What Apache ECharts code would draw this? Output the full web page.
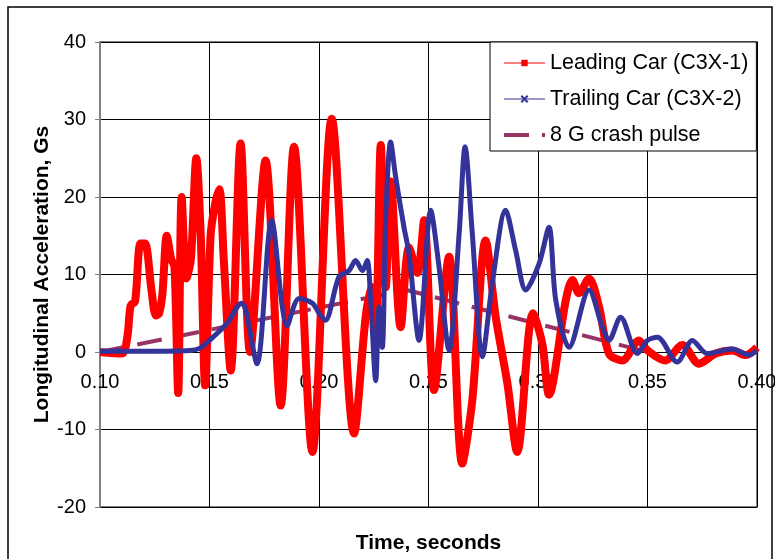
<!DOCTYPE html>
<html>
<head>
<meta charset="utf-8">
<script src="https://cdn.jsdelivr.net/npm/echarts@6/dist/echarts.min.js"></script>
<style>
  html, body { margin: 0; padding: 0; background: #fff; }
  #chart { width: 775px; height: 559px; }
</style>
</head>
<body>
<div id="chart"></div>
<script>
// time (s) and acceleration (G)
const leadT = [0.100, 0.110, 0.1125, 0.114, 0.116, 0.1185, 0.1205, 0.1235, 0.1255, 0.127, 0.1285, 0.1305, 0.1325, 0.134, 0.1357, 0.1373, 0.1395, 0.1415, 0.144, 0.146, 0.148, 0.1505, 0.1525, 0.1545, 0.1565, 0.1597, 0.1642, 0.1685, 0.1756, 0.1825, 0.1886, 0.197, 0.2058, 0.216, 0.2215, 0.2242, 0.2259, 0.2282, 0.2305, 0.2327, 0.2373, 0.2411, 0.2449, 0.248, 0.2525, 0.2594, 0.2654, 0.270, 0.2761, 0.2807, 0.286, 0.2905, 0.2977, 0.302, 0.305, 0.3127, 0.3157, 0.3187, 0.3233, 0.3279, 0.3324, 0.3385, 0.3461, 0.350, 0.358, 0.3659, 0.3735, 0.3811, 0.3887, 0.3948, 0.400]
const leadG = [0, -0.2, 2, 6, 6.5, 14, 14, 8, 4.7, 5, 7.5, 15, 12, 11, -5.3, 20, 9.5, 12, 25, 15, -4.3, 15, 19, 21, 12, -2.4, 26.9, 0, 24.7, -6.9, 26.5, -12.9, 30.1, -10.5, 5, 8.4, 2.4, 26.7, 8.4, 22, 3.2, 13.5, 10.2, 17, -4.9, 12.3, -14.4, -6.2, 14.4, 4.5, -4, -12.9, 5, 1, -5.5, 6.7, 9.3, 7.6, 9.5, 5.8, -0.2, -1.1, 1.5, 0.2, -1.1, 0.9, -1.5, -0.2, 0.2, -0.4, 0.6]

const trailT = [0.100, 0.120, 0.141, 0.1457, 0.150, 0.158, 0.1647, 0.1665, 0.1717, 0.1784, 0.1855, 0.1909, 0.197, 0.200, 0.2029, 0.2091, 0.2137, 0.2167, 0.2198, 0.222, 0.2236, 0.2259, 0.2274, 0.2289, 0.2305, 0.2327, 0.235, 0.2388, 0.2411, 0.2457, 0.251, 0.2548, 0.2594, 0.264, 0.2667, 0.270, 0.2746, 0.2791, 0.2852, 0.2898, 0.2944, 0.3005, 0.305, 0.3081, 0.3142, 0.3233, 0.3294, 0.3324, 0.3377, 0.3454, 0.350, 0.3545, 0.3636, 0.3705, 0.3773, 0.3887, 0.3963, 0.400]
const trailG = [0.1, 0.1, 0.2, 0.5, 1.5, 3.7, 6.3, 5.5, -1.5, 17, 3.4, 6.9, 6.3, 5.0, 4.1, 9.7, 10.5, 11.8, 10.5, 11.8, 6.7, -3.7, 5.8, 0.6, 17.5, 27.1, 22.6, 16.1, 12.7, 1.5, 18.3, 11, 0.2, 15.3, 26.5, 15.3, -0.6, 8.8, 18.3, 13.1, 8.0, 11.4, 16.1, 6.7, 0.6, 8.0, 3.2, 1.5, 4.5, -0.2, 1.5, 1.9, -1.3, 1.5, -0.2, 0.4, -0.4, 0.2]

const pulseT = [0.100, 0.240, 0.350]
const pulseG = [0, 8, 0]

const seriesNames = ['Leading Car (C3X-1)', 'Trailing Car (C3X-2)', '8 G crash pulse']

const FONT = 'Liberation Sans, Arial, sans-serif'
const GRID_TOP = 42
const GRID_H = 465

function pairs (t, g) {
  return t.map((x, i) => [x, g[i]])
}

const chart = echarts.init(document.getElementById('chart'))
chart.setOption({
  animation: false,
  backgroundColor: '#fff',
  grid: {
    left: 100,
    top: GRID_TOP,
    width: 657,
    height: GRID_H,
    containLabel: false,
    outerBoundsMode: 'none',
    show: true,
    borderColor: '#808080',
    borderWidth: 2
  },
  legend: {
    orient: 'vertical',
    left: 490,
    top: 42,
    backgroundColor: '#fff',
    borderColor: '#000',
    borderWidth: 1,
    borderRadius: 0,
    padding: [10, 8, 5, 12],
    itemWidth: 41,
    itemHeight: 8,
    itemGap: 14,
    textStyle: { fontFamily: FONT, fontSize: 21.5, color: '#000' },
    data: [
      { name: seriesNames[0], lineStyle: { width: 1 } },
      { name: seriesNames[1], lineStyle: { width: 1 } },
      { name: seriesNames[2], itemStyle: { opacity: 0 }, lineStyle: { width: 4, type: [25, 13] } }
    ]
  },
  xAxis: {
    type: 'value',
    min: 0.10,
    max: 0.40,
    interval: 0.05,
    position: 'bottom',
    name: 'Time, seconds',
    nameLocation: 'middle',
    nameGap: 181,
    nameMoveOverlap: false,
    nameTextStyle: { fontFamily: FONT, fontSize: 21, fontWeight: 'bold', color: '#000' },
    axisLine: { onZero: false, lineStyle: { color: '#000', width: 1 } },
    axisTick: { show: false },
    axisLabel: {
      fontFamily: FONT,
      fontSize: 20,
      color: '#000',
      margin: 20,
      formatter: v => v.toFixed(2)
    },
    splitLine: { show: true, lineStyle: { color: '#000', width: 1 } }
  },
  yAxis: {
    type: 'value',
    min: -20,
    max: 40,
    interval: 10,
    name: 'Longitudinal Acceleration, Gs',
    nameLocation: 'middle',
    nameRotate: 90,
    nameGap: 47,
    nameMoveOverlap: false,
    nameTextStyle: { fontFamily: FONT, fontSize: 21, fontWeight: 'bold', color: '#000' },
    axisLine: { show: true, onZero: false, lineStyle: { color: '#808080', width: 2 } },
    axisTick: { show: true, length: 5, lineStyle: { color: '#808080', width: 1 } },
    axisLabel: { fontFamily: FONT, fontSize: 20, color: '#000', margin: 14 },
    splitLine: { show: true, lineStyle: { color: '#000', width: 1 } }
  },
  series: [
    {
      name: seriesNames[2],
      type: 'line',
      data: pairs(pulseT, pulseG),
      symbol: 'none',
      showSymbol: false,
      z: 1,
      color: '#993366',
      lineStyle: { color: '#993366', width: 4, type: [25, 13] }
    },
    {
      name: seriesNames[0],
      type: 'line',
      data: pairs(leadT, leadG),
      symbol: 'rect',
      showSymbol: false,
      smooth: 0.3,
      z: 2,
      color: '#ff0000',
      lineStyle: { color: '#ff0000', width: 8 }
    },
    {
      name: seriesNames[1],
      type: 'line',
      data: pairs(trailT, trailG),
      symbol: 'path://M0,0L10,10M10,0L0,10',
      showSymbol: false,
      smooth: 0.3,
      z: 3,
      color: '#333399',
      itemStyle: { borderColor: '#333399', borderWidth: 1 },
      lineStyle: { color: '#333399', width: 5 }
    }
  ],
  graphic: [
    {
      type: 'rect',
      shape: { x: 8, y: 7, width: 764, height: 600 },
      style: { fill: null, stroke: '#000', lineWidth: 1.5 },
      silent: true
    }
  ]
})

// the x axis crosses at 0 G: move it up from the grid bottom to the zero line
const zeroY = chart.convertToPixel({ yAxisIndex: 0 }, 0)
chart.setOption({ xAxis: { offset: zeroY - (GRID_TOP + GRID_H) } })
</script>
</body>
</html>
